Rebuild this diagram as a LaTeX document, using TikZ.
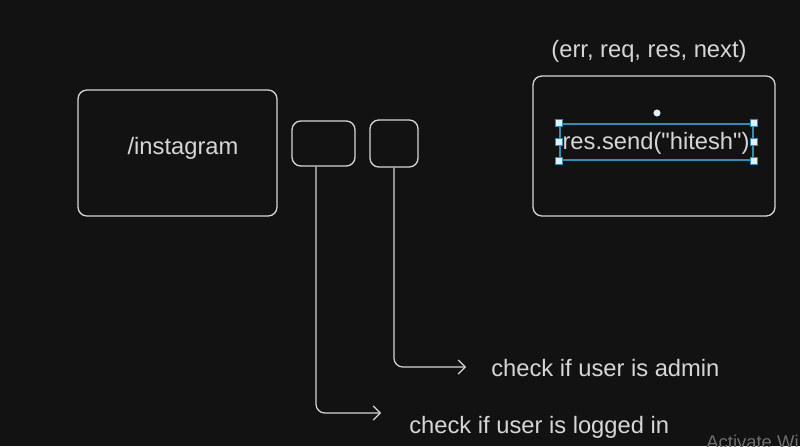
\documentclass[tikz,border=0pt]{standalone}
\usepackage{fontspec}
\setmainfont{Liberation Sans}[Ligatures=TeXOff]
\usetikzlibrary{arrows.meta, positioning}
\definecolor{bgdark}{RGB}{18,18,18}
\definecolor{inkgray}{RGB}{214,214,214}
\definecolor{selblue}{RGB}{52,140,178}
\definecolor{handlefill}{RGB}{225,240,248}
\definecolor{wmgray}{RGB}{110,110,110}
\tikzset{
  sketchbox/.style={rectangle, draw=inkgray, line width=0.75pt, rounded corners=5pt},
  label/.style={text=inkgray, inner sep=0pt, font=\fontsize{13.5}{16}\selectfont},
  conn/.style={draw=inkgray, line width=0.7pt, rounded corners=5pt, -{Straight Barb[length=4pt, width=8pt]}},
  selbox/.style={rectangle, draw=selblue, line width=0.8pt, inner sep=0pt},
  handle/.style={rectangle, draw=selblue, fill=handlefill, line width=0.5pt, minimum size=4pt, inner sep=0pt}
}

\begin{document}
\begin{tikzpicture}[x=0.02cm, y=-0.02cm]
        \fill[bgdark] (0,0) rectangle (800,446);
        \useasboundingbox (0,0) rectangle (800,446);

        % Route and middlewares
        \node[sketchbox, minimum width=3.98cm, minimum height=2.52cm] (route) at (177.5,153) {};
        \node[label] (routetxt) at (183,148) {/instagram};
        \node[sketchbox, minimum width=1.26cm, minimum height=0.9cm] (mw1) at (323.5,143.5) {};
        \node[sketchbox, minimum width=0.96cm, minimum height=0.94cm] (mw2) at (394,143.5) {};

        % Handler box
        \node[label] (sig) at (649,51) {(err, req, res, next)};
        \node[sketchbox, minimum width=4.84cm, minimum height=2.8cm] (handler) at (654,146) {};
        \node[selbox, minimum width=3.86cm, minimum height=0.72cm] (sel) at (656.5,142) {};
        \node[label] (send) at (656,143) {res.send("hitesh")};
        \foreach \a in {north west, north east, south west, south east, west, east}
          \node[handle] at (sel.\a) {};
        \node[circle, fill=handlefill, minimum size=4pt, inner sep=0pt] (rot) at (657,113) {};

        % Notes
        \node[label, anchor=west] (admin) at (491,368) {check if user is admin};
        \node[label, anchor=west] (logged) at (409,427) {check if user is logged in};
        \coordinate (tipadmin) at (466,367);
        \coordinate (tiplogged) at (381,413);
        \draw[conn] (mw2.south) |- (tipadmin);
        \draw[conn] ([xshift=-0.15cm]mw1.south) |- (tiplogged);

        % watermark
        \node[anchor=base west, inner sep=0pt, text=wmgray, font=\fontsize{10.5}{12}\selectfont] (wm) at (706,448) {Activate Wi};
\end{tikzpicture}
\end{document}
